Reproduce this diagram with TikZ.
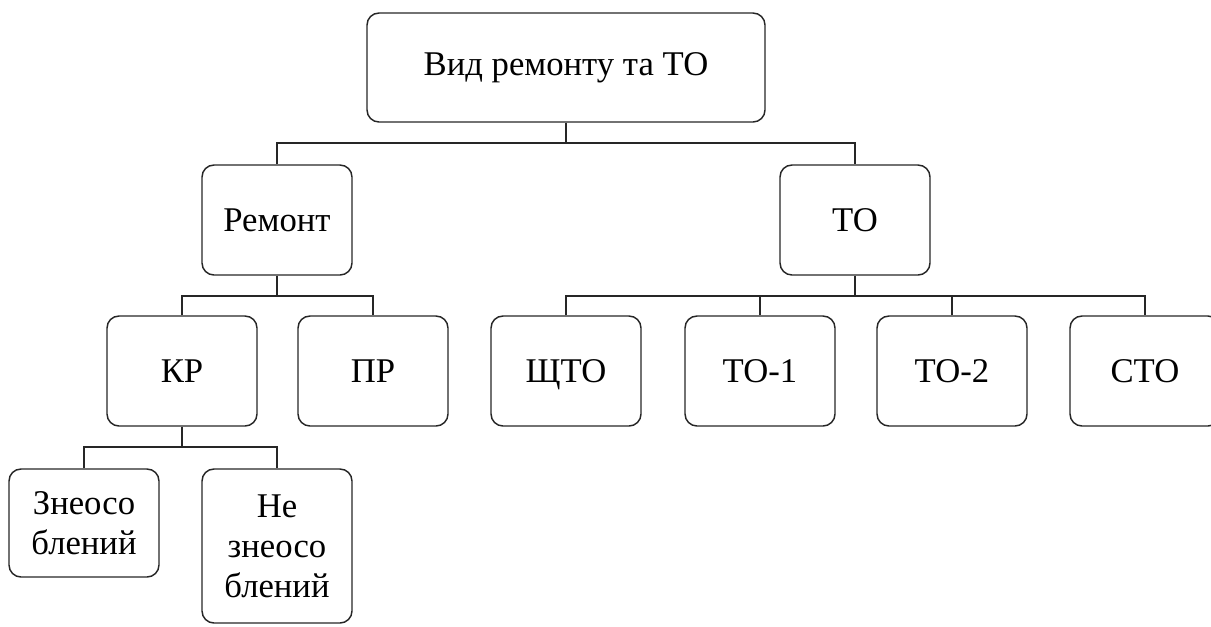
\documentclass[tikz,border=0pt]{standalone}
\usepackage{fontspec}
\setmainfont{Liberation Serif}
\begin{document}
\begin{tikzpicture}[x=0.75pt,y=-0.75pt,
  box/.style={draw=black!85, rounded corners=9pt, line width=1.1pt, align=center,
    font=\fontsize{26}{30}\selectfont, inner sep=0pt,
    minimum width=112.5pt, minimum height=82.5pt},
  conn/.style={draw=black!85, line width=1.1pt}]
\useasboundingbox (0,0) rectangle (1211,626);
\node[box, minimum width=298.5pt, minimum height=81.75pt] (top) at (566,67.5) {Вид ремонту та ТО};
\node[box] (rem) at (277,220) {Ремонт};
\node[box] (to) at (855,220) {ТО};
\node[box] (kr) at (182,371) {КР};
\node[box] (pr) at (373,371) {ПР};
\node[box] (shto) at (566,371) {\raisebox{0pt}[\height][0pt]{ЩТО}};
\node[box] (to1) at (760,371) {ТО-1};
\node[box] (to2) at (952,371) {ТО-2};
\node[box] (sto) at (1145,371) {СТО};
\node[box, minimum height=81pt] (zn) at (84,523) {Знеосо\\блений};
\node[box, minimum height=115.5pt] (nezn) at (277,546) {Не\\знеосо\\блений};
\coordinate (b1) at (566,143);
\coordinate (b2) at (277,296);
\coordinate (b3) at (855,296);
\coordinate (b4) at (182,447);
\draw[conn] (top.south) -- (b1);
\draw[conn] (rem.north) -- (rem.north |- b1) -- (to.north |- b1) -- (to.north);
\draw[conn] (rem.south) -- (b2);
\draw[conn] (kr.north) -- (kr.north |- b2) -- (pr.north |- b2) -- (pr.north);
\draw[conn] (to.south) -- (b3);
\draw[conn] (shto.north) -- (shto.north |- b3) -- (sto.north |- b3) -- (sto.north);
\draw[conn] (to1.north) -- (to1.north |- b3);
\draw[conn] (to2.north) -- (to2.north |- b3);
\draw[conn] (kr.south) -- (b4);
\draw[conn] (zn.north) -- (zn.north |- b4) -- (nezn.north |- b4) -- (nezn.north);
\end{tikzpicture}
\end{document}
